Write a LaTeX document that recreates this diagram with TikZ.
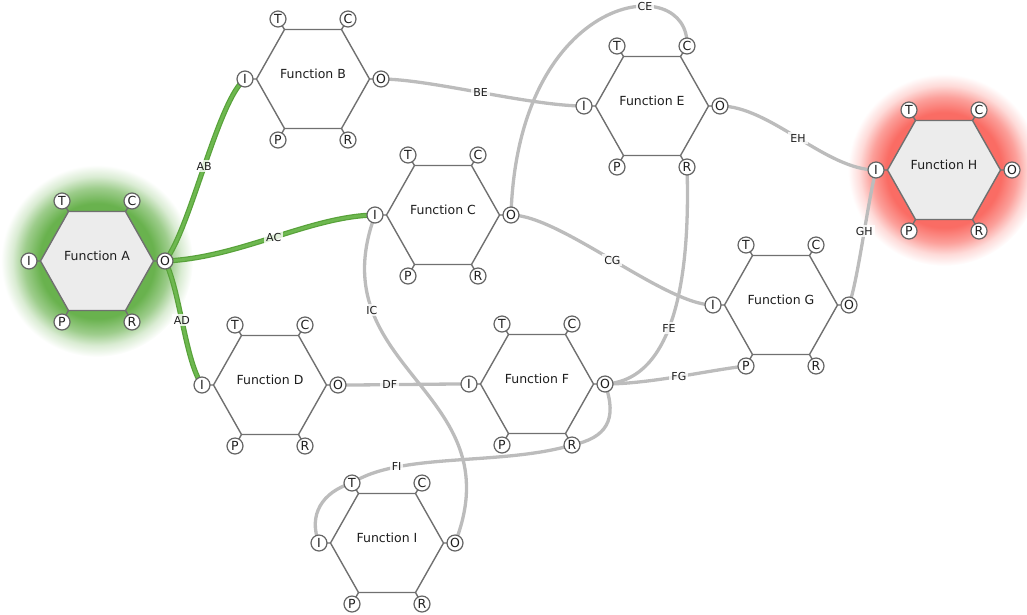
\documentclass[tikz,border=0pt]{standalone}
\usepackage{fontspec}
\setmainfont{DejaVu Sans}
\usetikzlibrary{calc}
\definecolor{glowgreen}{RGB}{105,178,78}
\definecolor{glowred}{RGB}{250,108,100}
\definecolor{hexfill}{RGB}{236,236,236}
\definecolor{hexcol}{RGB}{112,112,112}
\definecolor{aspcol}{RGB}{100,100,100}
\definecolor{txtcol}{RGB}{30,30,30}
\definecolor{edgegray}{RGB}{188,188,188}
\definecolor{greenout}{RGB}{88,162,58}
\definecolor{greenin}{RGB}{110,184,80}
\pgfdeclareradialshading{glowA}{\pgfpointorigin}{color(0bp)=(glowgreen); color(15bp)=(glowgreen); color(19bp)=(glowgreen!65!white); color(22bp)=(glowgreen!25!white); color(25bp)=(white); color(50bp)=(white)}
\pgfdeclareradialshading{glowH}{\pgfpointorigin}{color(0bp)=(glowred); color(15bp)=(glowred); color(19bp)=(glowred!65!white); color(22bp)=(glowred!25!white); color(25bp)=(white); color(50bp)=(white)}
\pgfdeclarelayer{bg}
\pgfdeclarelayer{edges}
\pgfsetlayers{bg,edges,main}
\tikzset{
  hexline/.style={draw=hexcol, line width=1.4pt, line join=miter},
  aspect/.style={circle, draw=aspcol, line width=1.2pt, fill=white, minimum size=16pt, inner sep=0pt, font=\fontsize{12.5}{12.5}\selectfont, text=txtcol},
  fnlabel/.style={font=\fontsize{12.5}{14}\selectfont, text=txtcol},
  link/.style={draw=edgegray, line width=3.3pt},
  glink/.style={draw=greenout, double=greenin, double distance=2.8pt, line width=1.2pt},
  elabel/.style={fill=white, fill opacity=.8, text opacity=1, inner sep=2pt, font=\fontsize{11}{11}\selectfont, text=txtcol},
}
\newcommand\framfunc[5]{%
\begin{scope}[shift={(#2,#3)}]
 \draw[hexline] (-56.5,0)--(-68,0) (56.5,0)--(68,0) (-28.5,-49.5)--(-35,-60) (28.5,-49.5)--(35,-60) (-28.5,49.5)--(-35,61) (28.5,49.5)--(35,61);
 \draw[hexline, fill=#5] (-56.5,0) -- (-28.5,-49.5) -- (28.5,-49.5) -- (56.5,0) -- (28.5,49.5) -- (-28.5,49.5) -- cycle;
 \node[fnlabel] (#1-name) at (0,-5) {#4};
 \node[aspect] (#1-I) at (-68,0) {I};
 \node[aspect] (#1-O) at (68,0) {O};
 \node[aspect] (#1-T) at (-35,-60) {T};
 \node[aspect] (#1-C) at (35,-60) {C};
 \node[aspect] (#1-P) at (-35,61) {P};
 \node[aspect] (#1-R) at (35,61) {R};
\end{scope}}
\begin{document}
\begin{tikzpicture}[x=1pt,y=-1pt]
\useasboundingbox (0,0) rectangle (1027,614);
\begin{pgfonlayer}{bg}
 \shade[shading=glowA] (97,261) circle (96);
 \shade[shading=glowH] (944,170) circle (96);
\end{pgfonlayer}
\framfunc{A}{97}{261}{Function A}{hexfill}
\framfunc{B}{313}{79}{Function B}{white}
\framfunc{C}{443}{215}{Function C}{white}
\framfunc{D}{270}{385}{Function D}{white}
\framfunc{E}{652}{106}{Function E}{white}
\framfunc{F}{537}{384}{Function F}{white}
\framfunc{G}{781}{305}{Function G}{white}
\framfunc{H}{944}{170}{Function H}{hexfill}
\framfunc{I}{387}{543}{Function I}{white}
\begin{pgfonlayer}{edges}
 \draw[link] (B-O.center) .. controls +(49,0) and +(-54,0) .. (E-I.center) node[elabel,pos=.5] {BE};
 \draw[link] (C-O.center) .. controls +(7,-225) and +(3,-76) .. (E-C.center) node[elabel,pos=.67] {CE};
 \draw[link] (C-O.center) .. controls +(49,0) and +(-48,0) .. (G-I.center) node[elabel,pos=.5] {CG};
 \draw[link] (E-O.center) .. controls +(50,0) and +(-50,0) .. (H-I.center) node[elabel,pos=.5] {EH};
 \draw[link] (F-O.center) .. controls +(75,-4) and +(3,93) .. (E-R.center) node[elabel,pos=.42] {FE};
 \draw[link] (F-O.center) .. controls +(45,0) and +(-36,4) .. (G-P.center) node[elabel,pos=.5] {FG};
 \draw[link] (G-O.center) .. controls +(9,-25) and +(-8,30) .. (H-I.center) node[elabel,pos=.55] {GH};
 \draw[link] (D-O.center) .. controls +(40,0) and +(-40,0) .. (F-I.center) node[elabel,pos=.4] {DF};
 \draw[link] (I-O.center) .. controls +(60,-153) and +(-57,155) .. (C-I.center) node[elabel,pos=.75] {IC};
 \draw[link] (F-O.center) .. controls +(13,36) and +(34,-7) .. (F-R.center)
   .. controls +(-71,21) and +(48,-31) .. (I-T.center) node[elabel,pos=.75] {FI}
   .. controls +(-30,9) and +(-11,-28) .. (I-I.center);
 \draw[glink] (A-O.center) .. controls +(25,-31) and +(-27,21) .. (B-I.center) node[elabel,pos=.5] {AB};
 \draw[glink] (A-O.center) .. controls +(75,-3) and +(-65,1) .. (C-I.center) node[elabel,pos=.5] {AC};
 \draw[glink] (A-O.center) .. controls +(15,29) and +(-17,-25) .. (D-I.center) node[elabel,pos=.47] {AD};
\end{pgfonlayer}
\end{tikzpicture}
\end{document}
